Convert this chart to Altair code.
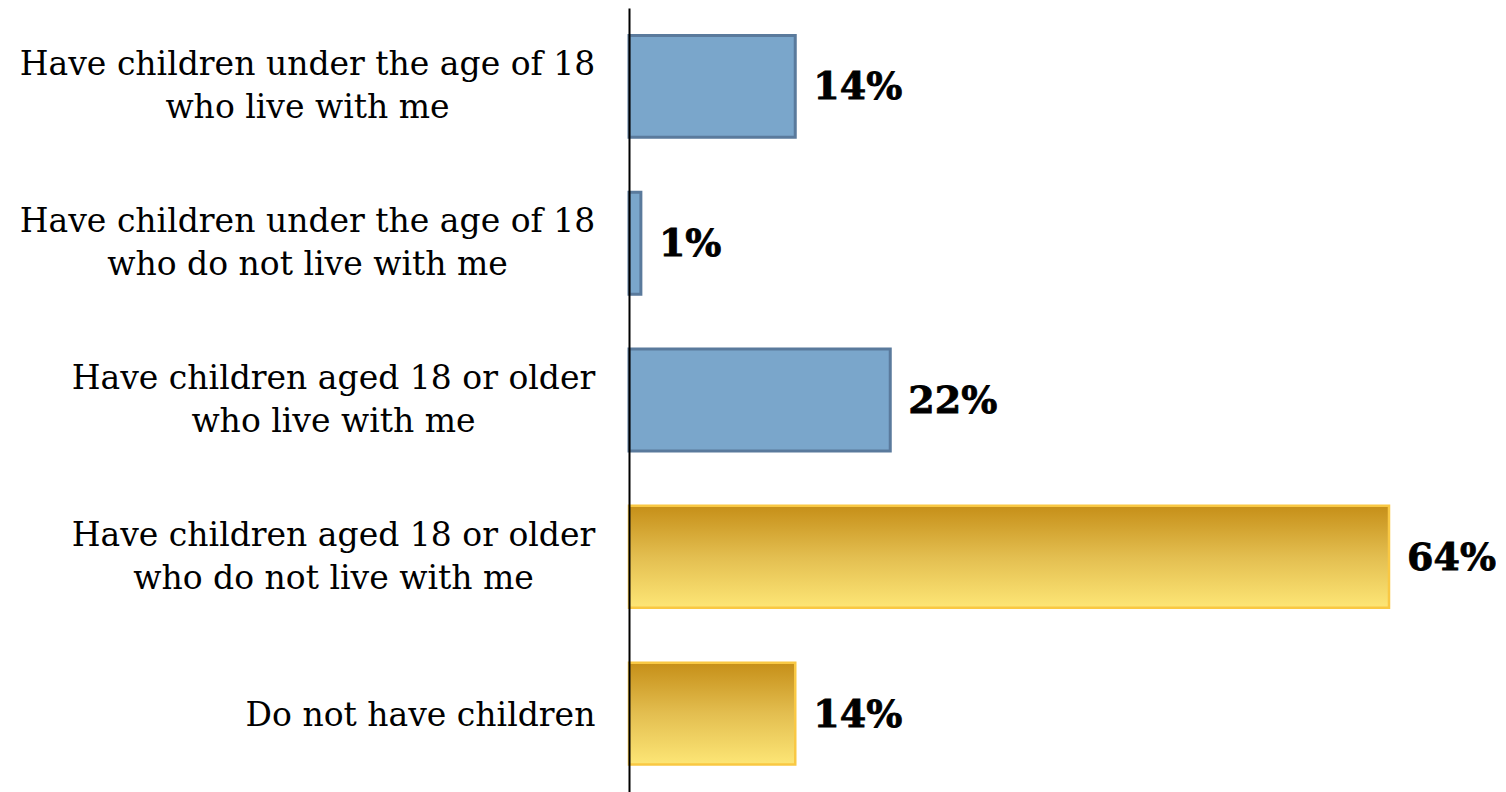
import altair as alt
import pandas as pd

categories = [
    "Have children under the age of 18|who live with me",
    "Have children under the age of 18|who do not live with me",
    "Have children aged 18 or older|who live with me",
    "Have children aged 18 or older|who do not live with me",
    "Do not have children",
]
values = [14, 1, 22, 64, 14]
groups = ["blue", "blue", "blue", "gold", "gold"]

# distance from the axis to the centre of each label block
label_pad = [322, 322, 296, 296, 209]

df = pd.DataFrame({"category": categories, "value": values, "group": groups})

W, H = 860, 784
D = W * 64 / 760

conds = [
    {"test": f"datum.value === '{c}'", "value": p}
    for c, p in zip(categories[:-1], label_pad[:-1])
]

y = alt.Y(
    "category:N",
    sort=categories,
    scale=alt.Scale(paddingInner=0.35, paddingOuter=0.175),
    axis=alt.Axis(
        title=None,
        ticks=False,
        tickSize=0,
        labelAlign="center",
        labelBaseline="middle",
        labelFont="DejaVu Serif",
        labelFontSize=33,
        labelLineHeight=43,
        labelColor="black",
        labelLimit=0,
        labelPadding={"condition": conds, "value": label_pad[-1]},
        labelOffset={"condition": {"test": "indexof(datum.value, '|') >= 0", "value": -21},
                     "value": 2},
        labelExpr="split(datum.label, '|')",
        domainColor="black",
        domainWidth=2,
        minExtent=621,
        maxExtent=621,
        zindex=1,
    ),
)
x = alt.X("value:Q", scale=alt.Scale(domain=[0, D]), axis=None)

base = alt.Chart(df).encode(y=y, x=x)

blue = base.transform_filter("datum.group == 'blue'").mark_bar(
    fill="#7AA6CB", stroke="#5A7A9C", strokeWidth=3
)

gold_grad = alt.Gradient(
    gradient="linear",
    stops=[
        alt.GradientStop(color="#C68F18", offset=0),
        alt.GradientStop(color="#E3BE50", offset=0.5),
        alt.GradientStop(color="#FDE676", offset=1),
    ],
    x1=0, x2=0, y1=0, y2=1,
)
gold = base.transform_filter("datum.group == 'gold'").mark_bar(
    fill=gold_grad, stroke="#F9C843", strokeWidth=2.5
)

text = base.transform_calculate(label="datum.value + '%'").mark_text(
    align="left", baseline="middle", dx=18, dy=2,
    font="DejaVu Serif", fontSize=38, fontWeight="bold", color="black",
    stroke="black", strokeWidth=0.8
).encode(text="label:N")

chart = (
    alt.layer(blue, gold, text)
    .properties(width=W, height=H, padding={"left": 0, "top": 0, "right": 0, "bottom": 0})
    .configure_view(stroke=None)
)

chart.save("out.html", embed_options={"renderer": "svg", "actions": False})
